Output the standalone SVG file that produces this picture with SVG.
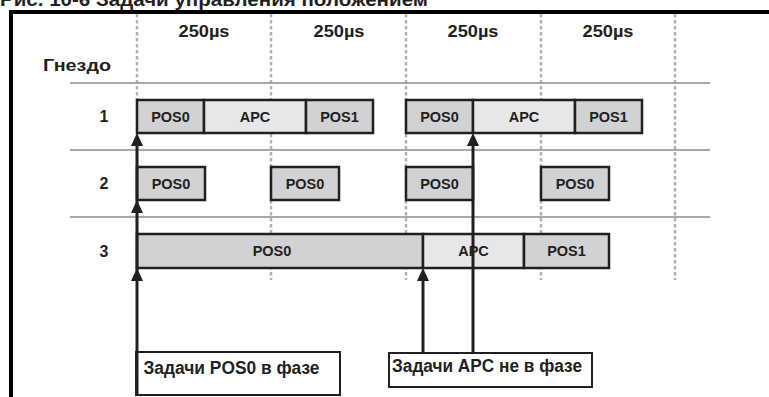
<svg xmlns="http://www.w3.org/2000/svg" width="769" height="397" viewBox="0 0 769 397">
<style>
  text{font-family:"Liberation Sans",Arial,sans-serif;font-weight:bold;fill:#231f20}
  .pos{fill:#d1d2d4;stroke:#231f20;stroke-width:2.5}
  .apc{fill:#e6e7e8;stroke:#231f20;stroke-width:2.5}
  .bt{font-size:14.5px;text-anchor:middle}
  .dash{stroke:#b3b3b3;stroke-width:2.5;stroke-dasharray:3.5 2.5;fill:none}
  .hl{stroke:#8c8c8c;stroke-width:1.5;fill:none}
  .conn{stroke:#231f20;stroke-width:3;fill:none}
  .lbl{fill:#fff;stroke:#231f20;stroke-width:2}
  .head{fill:#231f20}
</style>
<rect width="769" height="397" fill="#fff"/>
<text x="0" y="5.5" font-size="18" textLength="428" lengthAdjust="spacingAndGlyphs">Рис. 10-6 Задачи управления положением</text>
<line x1="9" y1="12" x2="769" y2="12" stroke="#000" stroke-width="4"/>
<line x1="11" y1="10" x2="11" y2="397" stroke="#000" stroke-width="4"/>
<g id="grid">
  <line class="dash" x1="137" y1="14" x2="137" y2="280"/>
  <line class="dash" x1="271" y1="14" x2="271" y2="280"/>
  <line class="dash" x1="406" y1="14" x2="406" y2="280"/>
  <line class="dash" x1="541" y1="14" x2="541" y2="280"/>
  <line class="dash" x1="675" y1="14" x2="675" y2="280"/>
  <line class="hl" x1="70" y1="83" x2="710" y2="83"/>
  <line class="hl" x1="70" y1="150" x2="710" y2="150"/>
  <line class="hl" x1="70" y1="217" x2="710" y2="217"/>
</g>
<g id="headers" font-size="16">
  <text x="204" y="37" font-size="16" text-anchor="middle" textLength="51" lengthAdjust="spacingAndGlyphs">250µs</text>
  <text x="339" y="37" font-size="16" text-anchor="middle" textLength="51" lengthAdjust="spacingAndGlyphs">250µs</text>
  <text x="473" y="37" font-size="16" text-anchor="middle" textLength="51" lengthAdjust="spacingAndGlyphs">250µs</text>
  <text x="608" y="37" font-size="16" text-anchor="middle" textLength="51" lengthAdjust="spacingAndGlyphs">250µs</text>
  <text x="43" y="71" font-size="16" textLength="68" lengthAdjust="spacingAndGlyphs">Гнездо</text>
  <text x="104" y="122" font-size="16" text-anchor="middle">1</text>
  <text x="104" y="189" font-size="16" text-anchor="middle">2</text>
  <text x="104" y="257" font-size="16" text-anchor="middle">3</text>
</g>
<g id="row1">
  <g id="r1-pos0-a"><rect class="pos" x="137" y="100" width="67" height="33"/><text class="bt" x="170.5" y="121.5">POS0</text></g>
  <g id="r1-apc-a"><rect class="apc" x="204" y="100" width="102" height="33"/><text class="bt" x="255" y="121.5">APC</text></g>
  <g id="r1-pos1-a"><rect class="pos" x="306" y="100" width="67" height="33"/><text class="bt" x="339.5" y="121.5">POS1</text></g>
  <g id="r1-pos0-b"><rect class="pos" x="406" y="100" width="67" height="33"/><text class="bt" x="439.5" y="121.5">POS0</text></g>
  <g id="r1-apc-b"><rect class="apc" x="473" y="100" width="102" height="33"/><text class="bt" x="524" y="121.5">APC</text></g>
  <g id="r1-pos1-b"><rect class="pos" x="575" y="100" width="67" height="33"/><text class="bt" x="608.5" y="121.5">POS1</text></g>
</g>
<g id="row2">
  <g id="r2-pos0-a"><rect class="pos" x="137" y="167" width="68" height="33"/><text class="bt" x="171" y="188.5">POS0</text></g>
  <g id="r2-pos0-b"><rect class="pos" x="271" y="167" width="68" height="33"/><text class="bt" x="305" y="188.5">POS0</text></g>
  <g id="r2-pos0-c"><rect class="pos" x="406" y="167" width="67" height="33"/><text class="bt" x="439.5" y="188.5">POS0</text></g>
  <g id="r2-pos0-d"><rect class="pos" x="541" y="167" width="68" height="33"/><text class="bt" x="575" y="188.5">POS0</text></g>
</g>
<g id="row3">
  <g id="r3-pos0"><rect class="pos" x="137" y="234" width="286" height="34"/><text class="bt" x="272" y="256">POS0</text></g>
  <g id="r3-apc"><rect class="apc" x="423" y="234" width="101" height="34"/><text class="bt" x="473.5" y="256">APC</text></g>
  <g id="r3-pos1"><rect class="pos" x="524" y="234" width="85" height="34"/><text class="bt" x="566.5" y="256">POS1</text></g>
</g>
<g id="label-inphase"><rect class="lbl" x="136" y="352" width="204" height="43"/><text x="143.5" y="373.5" font-size="17.5" textLength="176" lengthAdjust="spacingAndGlyphs">Задачи POS0 в фазе</text></g>
<g id="label-outphase"><rect class="lbl" x="389" y="353" width="203" height="34"/><text x="392" y="372" font-size="17.5" textLength="190" lengthAdjust="spacingAndGlyphs">Задачи APC не в фазе</text></g>
<g id="connectors">
  <line class="conn" x1="137" y1="395" x2="137" y2="140"/>
  <line class="conn" x1="473" y1="352" x2="473" y2="140"/>
  <line class="conn" x1="423" y1="352" x2="423" y2="275"/>
  <polygon class="head" points="137,133 131,146 143,146"/>
  <polygon class="head" points="137,200 131,213 143,213"/>
  <polygon class="head" points="137,268 131,281 143,281"/>
  <polygon class="head" points="473,133 467,146 479,146"/>
  <polygon class="head" points="423,268 417,281 429,281"/>
</g>
</svg>
